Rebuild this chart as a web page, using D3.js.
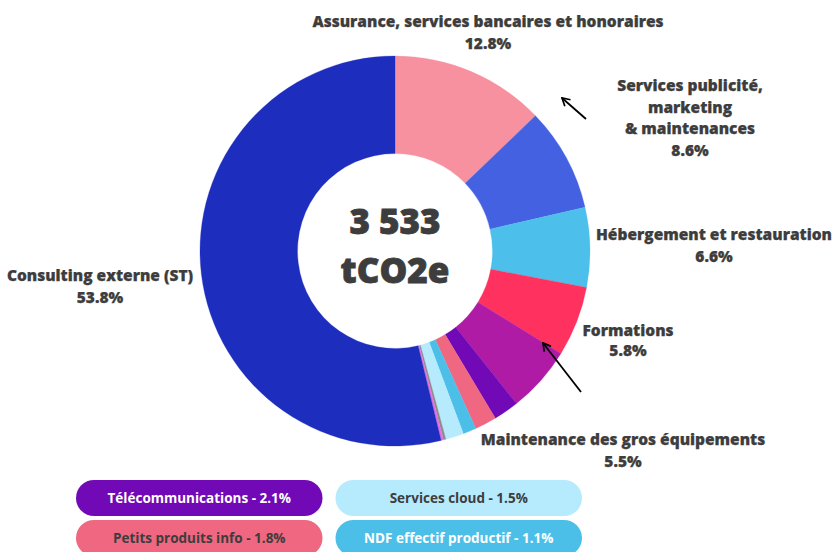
<!DOCTYPE html>
<html>
<head>
<meta charset="utf-8">
<script src="https://cdn.jsdelivr.net/npm/d3@7"></script>
<style>
  body { margin:0; background:#fff; }
  text { font-family:"Open Sans", sans-serif; }
</style>
</head>
<body>
<svg id="chart" width="833" height="552"></svg>
<script>
// categories in clockwise order starting at 12 o'clock
var categories = ["Assurance, services bancaires et honoraires","Services publicité, marketing & maintenances",
  "Hébergement et restauration","Formations","Maintenance des gros équipements","Télécommunications",
  "Petits produits info","NDF effectif productif","Services cloud","Autres 1","Autres 2","Consulting externe (ST)"];
var shares = [12.8, 8.6, 6.6, 5.8, 5.5, 2.1, 1.8, 1.1, 1.5, 0.2, 0.2, 53.8];
var colors = ["#F7919F","#4361E0","#4CC0EA","#FF325F","#B01BA6","#7209B7",
  "#EF6780","#4CBFE8","#B6EAFD","#8C8C8C","#E56EE0","#1D2DBE"];
var totalLabel = ["3 533","tCO2e"];

// text labels around the ring (lines)
var labelLines = [
  ["Assurance, services bancaires et honoraires","12.8%"],
  ["Services publicité,","marketing","& maintenances","8.6%"],
  ["Hébergement et restauration","6.6%"],
  ["Consulting externe (ST)","53.8%"],
  ["Formations","5.8%"],
  ["Maintenance des gros équipements","5.5%"]
];
// legend pills for the small slices
var pillLabels = ["Télécommunications - 2.1%","Services cloud - 1.5%","Petits produits info - 1.8%","NDF effectif productif - 1.1%"];
var pillColors = ["#7209B7","#B6EAFD","#EF6780","#4CBFE8"];
var pillText = ["#ffffff","#3d3d3d","#3d3d3d","#ffffff"];

var TEXT_COLOR="#3d3d3d";
var CX=395, CY=251, R_OUT=195, R_IN=97.5;

var svg = d3.select("#chart");

svg.append("defs").append("marker")
  .attr("id","arrow").attr("viewBox","0 0 10 10").attr("refX",9).attr("refY",5)
  .attr("markerWidth",6).attr("markerHeight",6).attr("orient","auto")
  .attr("markerUnits","strokeWidth")
  .append("path").attr("d","M2,1 L9,5 L2,9").attr("fill","none").attr("stroke","#000").attr("stroke-width",1.6);

var pie = d3.pie().sort(null).value(function(d){return d;});
var arc = d3.arc().innerRadius(R_IN).outerRadius(R_OUT);

var gDonut = svg.append("g").attr("transform","translate("+CX+","+CY+")");
gDonut.selectAll("path")
  .data(pie(shares))
  .enter().append("path")
  .attr("d",arc)
  .attr("fill",function(d,i){return colors[i];})
  .attr("stroke",function(d,i){return colors[i];})
  .attr("stroke-width",0.3);

// center total
gDonut.selectAll("text.total")
  .data(totalLabel)
  .enter().append("text")
  .attr("class","total")
  .attr("x",0)
  .attr("y",function(d,i){return -17+i*49;})
  .attr("text-anchor","middle")
  .style("font-size","35px").style("font-weight","800")
  .style("stroke",TEXT_COLOR).style("stroke-width",0.8)
  .style("fill",TEXT_COLOR)
  .text(function(d){return d;});

// labels: [center x, first baseline, line step, font size]
var labelPos = [[488,27,22,15.5],[690,91,21.5,15.5],[714,240,22,15.5],[100,281,22,15.5],[628,336,20,15.5],[623,445,22,15.5]];
labelLines.forEach(function(lines,k){
  var p = labelPos[k];
  var t = svg.append("text")
    .attr("text-anchor","middle")
    .style("font-size",p[3]+"px").style("font-weight","800")
    .style("stroke",TEXT_COLOR).style("stroke-width",0.25)
    .style("fill",TEXT_COLOR);
  lines.forEach(function(l,j){
    t.append("tspan").attr("x",p[0]).attr("y",p[1]+j*p[2]).text(l);
  });
});

// arrows (tail -> head)
var arrows = [[586,119,562,98],[581,392,543,343]];
svg.selectAll("line.arrow")
  .data(arrows)
  .enter().append("line")
  .attr("class","arrow")
  .attr("x1",function(d){return d[0];}).attr("y1",function(d){return d[1];})
  .attr("x2",function(d){return d[2];}).attr("y2",function(d){return d[3];})
  .attr("stroke","#000").attr("stroke-width",1.8)
  .attr("marker-end","url(#arrow)");

// legend pills
var px = d3.scaleBand().domain([0,1]).range([76,582]).paddingInner(0.05);
var py = d3.scaleBand().domain([0,1]).range([480,556]).paddingInner(0.1);
var gPills = svg.selectAll("g.pill")
  .data(pillLabels)
  .enter().append("g")
  .attr("class","pill")
  .attr("transform",function(d,i){return "translate("+px(i%2)+","+py(Math.floor(i/2))+")";});
gPills.append("rect")
  .attr("width",px.bandwidth()).attr("height",py.bandwidth())
  .attr("rx",py.bandwidth()/2)
  .attr("fill",function(d,i){return pillColors[i];});
gPills.append("text")
  .attr("x",px.bandwidth()/2).attr("y",py.bandwidth()/2+4.5)
  .attr("text-anchor","middle")
  .style("font-size","13.5px").style("font-weight","700")
  .style("fill",function(d,i){return pillText[i];})
  .text(function(d){return d;});
</script>
</body>
</html>
